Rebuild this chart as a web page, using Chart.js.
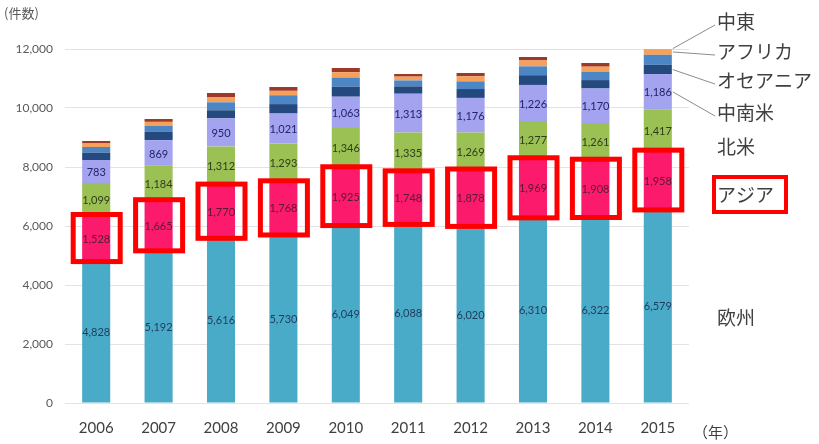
<!DOCTYPE html>
<html>
<head>
<meta charset="utf-8">
<script src="https://cdn.jsdelivr.net/npm/chart.js@4.4.1/dist/chart.umd.min.js"></script>
<style>
  body { margin: 0; background: #fff; }
  #wrap { position: relative; width: 819px; height: 444px; }
</style>
</head>
<body>
<div id="wrap"><canvas id="regionChart" width="819" height="444"></canvas></div>
<script>
const years = ['2006', '2007', '2008', '2009', '2010', '2011', '2012', '2013', '2014', '2015'];
const yTicks = [0, 2000, 4000, 6000, 8000, 10000, 12000];

// 件数 by region, stacked bottom to top
const europe   = [4828, 5192, 5616, 5730, 6049, 6088, 6020, 6310, 6322, 6579];
const asia     = [1528, 1665, 1770, 1768, 1925, 1748, 1878, 1969, 1908, 1958];
const nAmerica = [1099, 1184, 1312, 1293, 1346, 1335, 1269, 1277, 1261, 1417];
const latAm    = [783, 869, 950, 1021, 1063, 1313, 1176, 1226, 1170, 1186];
const oceania  = [250, 280, 275, 320, 340, 250, 300, 330, 285, 324];
const other    = [190, 210, 270, 300, 310, 200, 260, 300, 285, 340];
const africa   = [120, 130, 180, 150, 180, 130, 170, 200, 170, 190];
const midEast  = [83, 97, 135, 130, 143, 89, 113, 117, 124, 40];

const series = [
  { label: '欧州', data: europe, color: '#4aabc8', text: '#1f3b5c' },
  { label: 'アジア', data: asia, color: '#fb1a6c', text: '#5a1838' },
  { label: '北米', data: nAmerica, color: '#9bc154', text: '#2f3d1c' },
  { label: '中南米', data: latAm, color: '#a3a3ef', text: '#23246a' },
  { label: 'オセアニア', data: oceania, color: '#24497e', text: null },
  { label: 'その他', data: other, color: '#4d86c4', text: null },
  { label: 'アフリカ', data: africa, color: '#f6a05a', text: null },
  { label: '中東', data: midEast, color: '#9c3a2a', text: null }
];

const fmt = v => v.toLocaleString('en-US');
const jpFont = '"Noto Sans CJK JP", "Noto Sans", sans-serif';

// segment values, red frames round アジア, region names and leader lines
const overlay = {
  id: 'overlay',
  afterDatasetsDraw(chart) {
    const ctx = chart.ctx;
    ctx.save();
    ctx.textAlign = 'center';
    ctx.textBaseline = 'middle';
    ctx.font = '11px Lato, "Open Sans", sans-serif';
    series.forEach((s, i) => {
      if (!s.text) return;
      chart.getDatasetMeta(i).data.forEach((el, j) => {
        ctx.fillStyle = s.text;
        ctx.fillText(fmt(s.data[j]), el.x, (el.y + el.base) / 2 + 1);
      });
    });

    ctx.strokeStyle = '#ff0000';
    ctx.lineWidth = 5;
    chart.getDatasetMeta(1).data.forEach(el => {
      ctx.strokeRect(el.x - 23, el.y - 1, 47, el.base - el.y + 2);
    });

    // names on the right, from the last bar
    const last = years.length - 1;
    const segY = i => {
      const el = chart.getDatasetMeta(i).data[last];
      return (el.y + el.base) / 2;
    };
    const barRight = chart.getDatasetMeta(0).data[last].x + 15;
    const names = [
      { t: '中東', y: 22, ds: 7 },
      { t: 'アフリカ', y: 52, ds: 6 },
      { t: 'オセアニア', y: 81, ds: 4 },
      { t: '中南米', y: 113, ds: 3 },
      { t: '北米', y: 147 },
      { t: 'アジア', y: 195 },
      { t: '欧州', y: 318 }
    ];
    ctx.strokeStyle = '#8c8c8c';
    ctx.lineWidth = 1;
    names.forEach(n => {
      if (n.ds === undefined) return;
      ctx.beginPath();
      ctx.moveTo(715, n.y + 3);
      ctx.lineTo(barRight, segY(n.ds));
      ctx.stroke();
    });
    ctx.font = '19px ' + jpFont;
    ctx.fillStyle = '#404040';
    ctx.textAlign = 'left';
    names.forEach(n => ctx.fillText(n.t, 717, n.y));

    ctx.strokeStyle = '#ff0000';
    ctx.lineWidth = 4;
    ctx.strokeRect(714, 177, 72, 35);

    ctx.font = '13px ' + jpFont;
    ctx.fillStyle = '#595959';
    ctx.fillText('(件数)', 4, 13);
    ctx.font = '15px ' + jpFont;
    ctx.fillStyle = '#404040';
    ctx.fillText('（年）', 693, 432);
    ctx.restore();
  }
};

new Chart(document.getElementById('regionChart'), {
  type: 'bar',
  data: {
    labels: years,
    datasets: series.map(s => ({
      label: s.label,
      data: s.data,
      backgroundColor: s.color,
      borderWidth: 0,
      categoryPercentage: 1,
      barPercentage: 0.45
    }))
  },
  options: {
    responsive: false,
    animation: false,
    layout: { padding: { top: 49, right: 130, bottom: 0, left: 0 } },
    plugins: {
      legend: { display: false },
      tooltip: { enabled: false }
    },
    scales: {
      x: {
        stacked: true,
        grid: { display: false },
        border: { display: false },
        ticks: {
          color: '#404040',
          padding: 8,
          font: { family: 'Lato, "Open Sans", sans-serif', size: 15 }
        },
        afterFit: s => { s.height = 41; }
      },
      y: {
        stacked: true,
        min: 0,
        max: 12000,
        afterBuildTicks: s => { s.ticks = yTicks.map(v => ({ value: v })); },
        grid: { color: '#e3e3e3', tickLength: 0, drawTicks: false },
        border: { display: false },
        ticks: {
          color: '#595959',
          padding: 12,
          font: { family: 'Lato, "Open Sans", sans-serif', size: 12 },
          callback: v => fmt(v)
        },
        afterFit: s => { s.width = 65; }
      }
    }
  },
  plugins: [overlay]
});
</script>
</body>
</html>
